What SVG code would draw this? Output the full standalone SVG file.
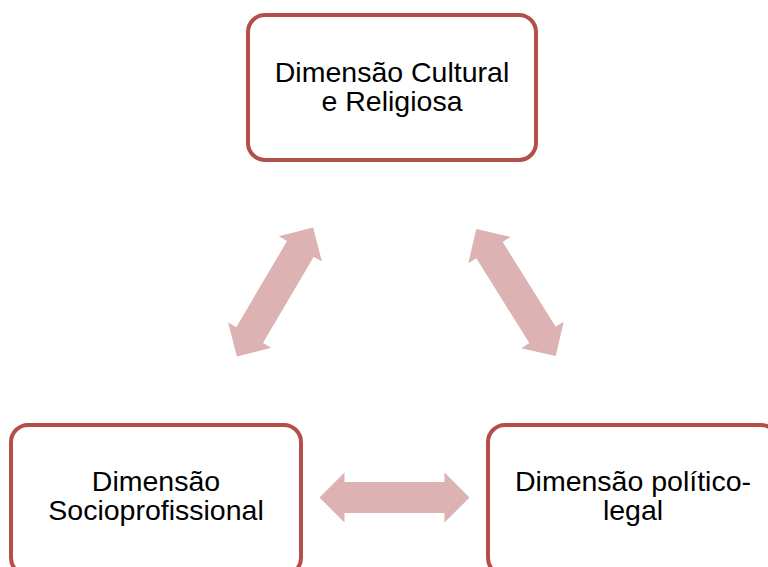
<svg xmlns="http://www.w3.org/2000/svg" width="768" height="567" viewBox="0 0 768 567">
  <defs>
    <style>
      .box { fill: #ffffff; stroke: #B44E4B; stroke-width: 4; }
      .lbl { font-family: "Liberation Sans", Arial, sans-serif; font-size: 28.5px; fill: #000000; text-anchor: middle; }
      .arr { fill: #DCB2B2; }
    </style>
    <path id="dblarrow" d="M -75,0 L -50,-25 L -50,-15.5 L 50,-15.5 L 50,-25 L 75,0 L 50,25 L 50,15.5 L -50,15.5 L -50,25 Z"/>
  </defs>
  <rect width="768" height="567" fill="#ffffff"/>
  <g id="connectors">
    <use href="#dblarrow" class="arr" transform="translate(275,292) rotate(-59.5)"/>
    <use href="#dblarrow" class="arr" transform="translate(516,292.5) rotate(58)"/>
    <use href="#dblarrow" class="arr" transform="translate(394.5,497.5)"/>
  </g>
  <g id="node-cultural">
    <rect class="box" x="248" y="15" width="288" height="145" rx="17"/>
    <text class="lbl" x="392" y="82">Dimensão Cultural</text>
    <text class="lbl" x="392" y="110.5">e Religiosa</text>
  </g>
  <g id="node-socio">
    <rect class="box" x="11" y="425" width="290" height="150" rx="17"/>
    <text class="lbl" x="156" y="491">Dimensão</text>
    <text class="lbl" x="156" y="520">Socioprofissional</text>
  </g>
  <g id="node-politico">
    <rect class="box" x="488" y="425" width="290" height="150" rx="17"/>
    <text class="lbl" x="633" y="491">Dimensão político-</text>
    <text class="lbl" x="633" y="520">legal</text>
  </g>
</svg>
